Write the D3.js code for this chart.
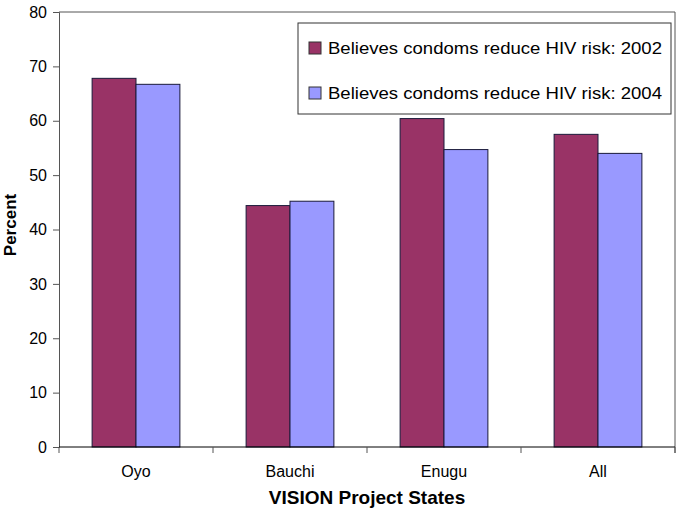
<!DOCTYPE html>
<html>
<head>
<meta charset="utf-8">
<script src="https://cdn.jsdelivr.net/npm/d3@7"></script>
<style>
  body { margin: 0; background: #fff; }
  text { font-family: "Liberation Sans", Arial, sans-serif; }
</style>
</head>
<body>
<script>
// Chart data
var states = ["Oyo", "Bauchi", "Enugu", "All"]
var years = ["2002", "2004"]
var values2002 = [67.8, 44.4, 60.4, 57.5]
var values2004 = [66.7, 45.2, 54.7, 54.0]
var yTicks = [0, 10, 20, 30, 40, 50, 60, 70, 80]
var seriesLabels = ["Believes condoms reduce HIV risk: 2002", "Believes condoms reduce HIV risk: 2004"]
var colors = ["#993366", "#9999ff"]

// Sizes
var svgW = 685
var svgH = 512
var plotLeft = 59
var plotRight = 675
var plotTop = 12
var plotBottom = 447

var svg = d3.select("body")
            .append("svg")
            .attr("width", svgW)
            .attr("height", svgH)

// Scales (gap between groups is 150% of a bar)
var xScale = d3.scaleBand()
               .domain(states)
               .range([plotLeft, plotRight])
               .paddingInner(0.43)
               .paddingOuter(0.215)

var xInner = d3.scaleBand()
               .domain(years)
               .range([0, xScale.bandwidth()])

var yScale = d3.scaleLinear()
               .domain([0, 80])
               .range([plotBottom, plotTop])

// Plot border (top and right)
svg.append("path")
   .attr("d", "M" + plotLeft + "," + plotTop + "H" + plotRight + "V" + (plotBottom + 6))
   .attr("fill", "none")
   .attr("stroke", "#555")
   .attr("stroke-width", 1)

// Bars
var rows = states.map(function(s, i) {
  return {state: s, vals: [values2002[i], values2004[i]]}
})

var groups = svg.selectAll(".group")
                .data(rows)
                .enter()
                .append("g")
                .attr("class", "group")
                .attr("transform", function(d) { return "translate(" + xScale(d.state) + ",0)" })

groups.selectAll("rect")
      .data(function(d) { return d.vals })
      .enter()
      .append("rect")
      .attr("x", function(d, i) { return xInner(years[i]) })
      .attr("y", function(d) { return yScale(d) })
      .attr("width", xInner.bandwidth())
      .attr("height", function(d) { return plotBottom - yScale(d) })
      .attr("fill", function(d, i) { return colors[i] })
      .attr("stroke", "#1a1a3a")
      .attr("stroke-width", 1)

// Y axis
var yAxis = d3.axisLeft(yScale)
              .tickValues(yTicks)
              .tickSize(6)
              .tickPadding(6)
svg.append("g")
   .attr("transform", "translate(" + plotLeft + ",0)")
   .call(yAxis)
   .call(function(g) {
     g.select(".domain").attr("stroke", "#555")
     g.selectAll(".tick line").attr("stroke", "#555")
     g.selectAll("text").style("font-size", "16px").attr("fill", "#000")
   })

// X axis: ticks on category boundaries
var step = xScale.step()
var boundaries = d3.range(states.length + 1).map(function(i) { return plotLeft + i * step })
svg.append("line")
   .attr("x1", plotLeft).attr("x2", plotRight)
   .attr("y1", plotBottom).attr("y2", plotBottom)
   .attr("stroke", "#000")
svg.selectAll(".xtick")
   .data(boundaries)
   .enter()
   .append("line")
   .attr("x1", function(d) { return d }).attr("x2", function(d) { return d })
   .attr("y1", plotBottom).attr("y2", plotBottom + 6)
   .attr("stroke", "#555")

svg.selectAll(".xlabel")
   .data(states)
   .enter()
   .append("text")
   .attr("x", function(d) { return xScale(d) + xScale.bandwidth() / 2 })
   .attr("y", 477)
   .attr("text-anchor", "middle")
   .style("font-size", "16px")
   .text(function(d) { return d })

// Axis titles
svg.append("text")
   .attr("x", (plotLeft + plotRight) / 2)
   .attr("y", 504)
   .attr("text-anchor", "middle")
   .style("font-size", "19px")
   .style("font-weight", "bold")
   .text("VISION Project States")

svg.append("text")
   .attr("transform", "translate(16,225) rotate(-90)")
   .attr("text-anchor", "middle")
   .style("font-size", "17px")
   .style("font-weight", "bold")
   .text("Percent")

// Legend
var legend = svg.append("g")
                .attr("transform", "translate(298,23)")
legend.append("rect")
      .attr("width", 373)
      .attr("height", 91)
      .attr("fill", "#fff")
      .attr("stroke", "#333")

var items = legend.selectAll(".item")
                  .data(seriesLabels)
                  .enter()
                  .append("g")
                  .attr("transform", function(d, i) { return "translate(11," + (25 + i * 45) + ")" })
items.append("rect")
     .attr("x", 0).attr("y", -6)
     .attr("width", 12).attr("height", 12)
     .attr("fill", function(d, i) { return colors[i] })
     .attr("stroke", "#333")
items.append("text")
     .attr("x", 19)
     .attr("y", 6)
     .attr("textLength", 334)
     .attr("lengthAdjust", "spacingAndGlyphs")
     .style("font-size", "17px")
     .text(function(d) { return d })
</script>
</body>
</html>
